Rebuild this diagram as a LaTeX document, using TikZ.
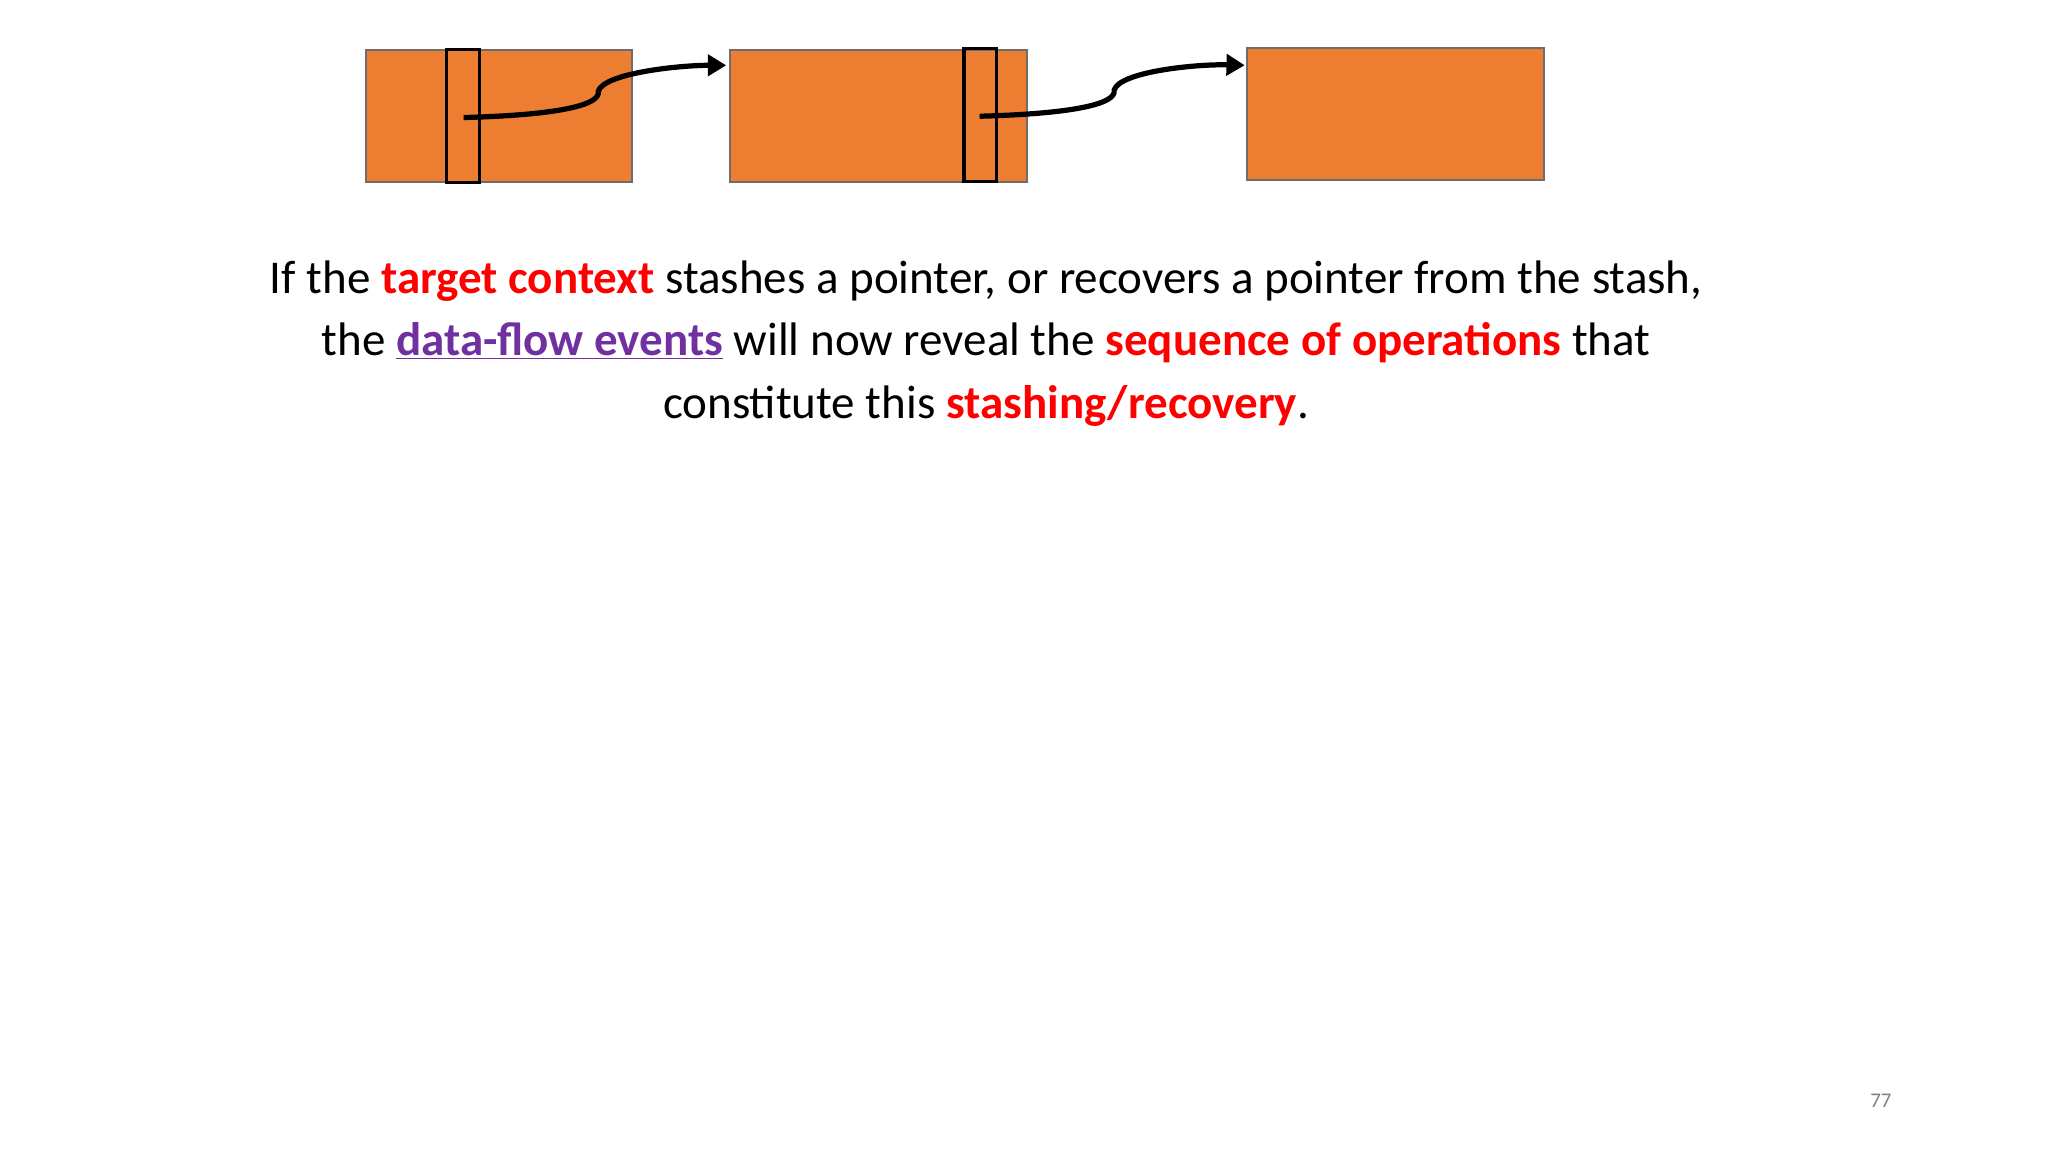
\documentclass[tikz,border=0pt]{standalone}
\usepackage{fontspec}
\setmainfont{Carlito}
\usetikzlibrary{arrows.meta}
\definecolor{org}{HTML}{ED7D31}
\definecolor{bord}{HTML}{6D6D6D}
\definecolor{hred}{HTML}{FF0000}
\definecolor{hpur}{HTML}{7030A0}
\begin{document}
\begin{tikzpicture}[x=1pt,y=-1pt,
  blk/.style={fill=org,draw=bord,line width=1.5pt},
  slot/.style={draw=black,line width=2.5pt},
  ptr/.style={line width=4pt,-{Triangle[length=14pt,width=16pt]}}]
\useasboundingbox (0,0) rectangle (1568,882);
\draw[blk] (280,38) rectangle (484,139);
\draw[blk] (559,38) rectangle (786,139);
\draw[blk] (955,37) rectangle (1182,138);
\draw[slot] (342,38) rectangle (367,140);
\draw[slot] (738,37) rectangle (763,139);
\coordinate (s1) at (355,90);
\coordinate (e1) at (556,50);
\coordinate (s2) at (750,89);
\coordinate (e2) at (953,50);
\draw[ptr] (s1) .. controls (430,88) and (460,80) .. (458,70) .. controls (462,56) and (520,50) .. (e1);
\draw[ptr] (s2) .. controls (825,87) and (855,79) .. (853,69) .. controls (857,55) and (915,49) .. (e2);
\node[align=center,font=\fontsize{36}{48}\selectfont,anchor=north] (txt) at (755,196)
{If the \textcolor{hred}{\textbf{target context}} stashes a pointer, or recovers a pointer from the stash,\\
the \textcolor{hpur}{\underline{\textbf{data-flow events}}} will now reveal the \textcolor{hred}{\textbf{sequence of operations}} that\\
constitute this \textcolor{hred}{\textbf{stashing/recovery}}.};
\node[text=gray,font=\fontsize{16}{18}\selectfont] (pg) at (1440,843) {77};
\end{tikzpicture}
\end{document}
